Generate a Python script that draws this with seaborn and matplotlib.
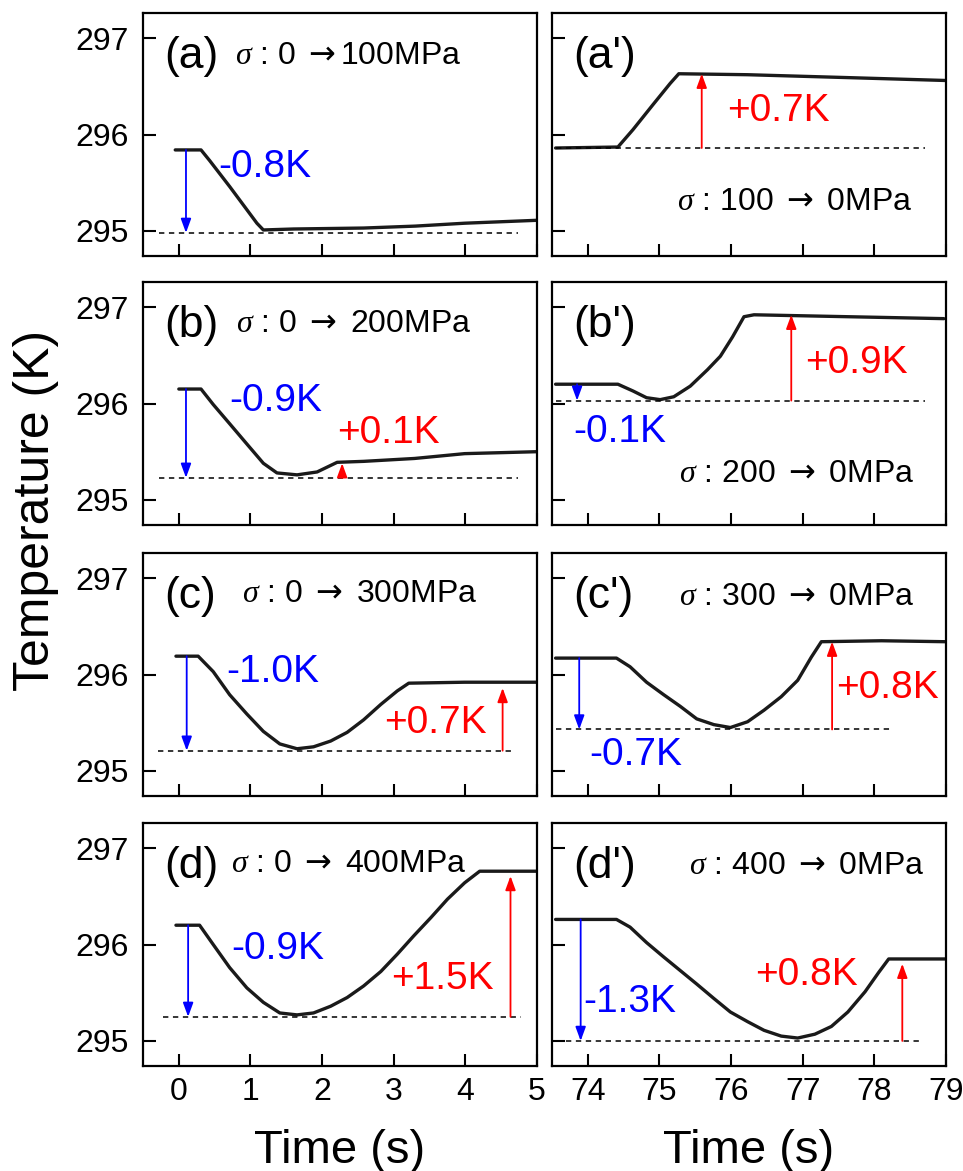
import matplotlib
matplotlib.use("Agg")
import matplotlib.pyplot as plt
import seaborn as sns

# --- data ---
# left column: loading, time 0-5 s
t_a = [-0.05, 0.31, 0.43, 0.71, 0.95, 1.09, 1.18, 1.6, 2.58, 3.3, 3.99, 4.99]
T_a = [295.84, 295.84, 295.73, 295.46, 295.22, 295.08, 295.01, 295.02, 295.03, 295.05, 295.08, 295.11]

t_b = [0.0, 0.31, 0.48, 0.71, 0.95, 1.18, 1.37, 1.65, 1.93, 2.21, 2.58, 3.29, 3.99, 4.99]
T_b = [296.15, 296.15, 295.99, 295.79, 295.58, 295.38, 295.28, 295.26, 295.29, 295.39, 295.40, 295.43, 295.48, 295.50]

t_c = [-0.04, 0.27, 0.48, 0.71, 0.95, 1.18, 1.41, 1.65, 1.88, 2.12, 2.35, 2.58, 2.82, 3.05, 3.21, 3.99, 4.99]
T_c = [296.19, 296.19, 296.03, 295.79, 295.59, 295.41, 295.28, 295.23, 295.25, 295.31, 295.40, 295.53, 295.69, 295.83, 295.91, 295.92, 295.92]

t_d = [-0.04, 0.29, 0.48, 0.71, 0.95, 1.18, 1.41, 1.65, 1.88, 2.12, 2.35, 2.58, 2.82, 3.05, 3.28, 3.52, 3.75, 3.99, 4.20, 4.99]
T_d = [296.20, 296.20, 296.00, 295.76, 295.55, 295.40, 295.29, 295.27, 295.29, 295.36, 295.45, 295.57, 295.72, 295.90, 296.09, 296.28, 296.47, 296.64, 296.76, 296.76]

# right column: unloading, time 73.5-79 s
t_a2 = [73.55, 74.42, 74.63, 74.91, 75.15, 75.27, 76.23, 77.63, 79.0]
T_a2 = [295.86, 295.87, 296.05, 296.31, 296.53, 296.63, 296.62, 296.59, 296.56]

t_b2 = [73.55, 74.42, 74.63, 74.82, 75.01, 75.20, 75.43, 75.67, 75.85, 76.02, 76.18, 76.32, 77.63, 78.97]
T_b2 = [296.20, 296.20, 296.13, 296.06, 296.04, 296.07, 296.18, 296.35, 296.49, 296.69, 296.90, 296.92, 296.90, 296.88]

t_c2 = [73.55, 74.40, 74.59, 74.82, 75.06, 75.29, 75.52, 75.76, 75.99, 76.23, 76.46, 76.70, 76.93, 77.12, 77.26, 78.10, 78.99]
T_c2 = [296.17, 296.17, 296.08, 295.92, 295.79, 295.67, 295.54, 295.48, 295.45, 295.51, 295.63, 295.77, 295.94, 296.18, 296.34, 296.35, 296.34]

t_d2 = [73.55, 74.40, 74.59, 74.82, 75.06, 75.29, 75.52, 75.76, 75.99, 76.23, 76.46, 76.70, 76.93, 77.17, 77.40, 77.63, 77.87, 78.06, 78.20, 78.99]
T_d2 = [296.26, 296.26, 296.18, 296.02, 295.87, 295.73, 295.59, 295.44, 295.30, 295.20, 295.11, 295.05, 295.03, 295.07, 295.15, 295.30, 295.51, 295.71, 295.85, 295.85]

# dashed reference lines: (level, x start, x end)
base_left = [(294.98, -0.27, 4.74), (295.23, -0.27, 4.74), (295.21, -0.29, 4.67), (295.25, -0.22, 4.78)]
base_right = [(295.86, 73.55, 78.71), (296.03, 73.55, 78.71), (295.43, 73.55, 78.24), (295.00, 73.55, 78.62)]

# arrows: (x, from, to, colour)
arrows_left = [
    [(0.10, 295.84, 294.98, "blue")],
    [(0.10, 296.15, 295.23, "blue"), (2.28, 295.23, 295.38, "red")],
    [(0.11, 296.19, 295.21, "blue"), (4.52, 295.21, 295.86, "red")],
    [(0.13, 296.20, 295.25, "blue"), (4.63, 295.25, 296.71, "red")],
]
arrows_right = [
    [(75.59, 295.86, 296.63, "red")],
    [(73.85, 296.20, 296.03, "blue"), (76.84, 296.03, 296.92, "red")],
    [(73.88, 296.17, 295.43, "blue"), (77.41, 295.43, 296.34, "red")],
    [(73.90, 296.26, 295.00, "blue"), (78.39, 295.00, 295.80, "red")],
]

# annotation labels: (text, x, y, colour)
dT_left = [
    [("-0.8K", 0.55, 295.66, "blue")],
    [("-0.9K", 0.71, 296.03, "blue"), ("+0.1K", 2.21, 295.69, "red")],
    [("-1.0K", 0.66, 296.03, "blue"), ("+0.7K", 2.86, 295.50, "red")],
    [("-0.9K", 0.73, 295.95, "blue"), ("+1.5K", 2.96, 295.64, "red")],
]
dT_right = [
    [("+0.7K", 75.95, 296.24, "red")],
    [("+0.9K", 77.03, 296.42, "red"), ("-0.1K", 73.79, 295.70, "blue")],
    [("+0.8K", 77.47, 295.86, "red"), ("-0.7K", 74.02, 295.17, "blue")],
    [("-1.3K", 73.94, 295.40, "blue"), ("+0.8K", 76.34, 295.68, "red")],
]

panel_left = ["(a)", "(b)", "(c)", "(d)"]
panel_right = ["(a')", "(b')", "(c')", "(d')"]
sigma_left = [r"$\sigma$ : 0 $\rightarrow$100MPa", r"$\sigma$ : 0 $\rightarrow$ 200MPa",
              r"$\sigma$ : 0 $\rightarrow$ 300MPa", r"$\sigma$ : 0 $\rightarrow$ 400MPa"]
sigma_right = [r"$\sigma$ : 100 $\rightarrow$ 0MPa", r"$\sigma$ : 200 $\rightarrow$ 0MPa",
               r"$\sigma$ : 300 $\rightarrow$ 0MPa", r"$\sigma$ : 400 $\rightarrow$ 0MPa"]
sigma_left_pos = [(0.78, 296.81), (0.80, 296.82), (0.875, 296.83), (0.73, 296.84)]
sigma_right_pos = [(75.24, 295.30), (75.27, 295.27), (75.27, 296.80), (75.41, 296.81)]

curves_left = [(t_a, T_a), (t_b, T_b), (t_c, T_c), (t_d, T_d)]
curves_right = [(t_a2, T_a2), (t_b2, T_b2), (t_c2, T_c2), (t_d2, T_d2)]

xticks_left = [0, 1, 2, 3, 4, 5]
xticks_right = [74, 75, 76, 77, 78, 79]
yticks = [295, 296, 297]

# --- style ---
sns.set_style("ticks")
plt.rcParams["font.family"] = ["Liberation Sans", "DejaVu Sans"]
plt.rcParams["mathtext.fontset"] = "custom"
plt.rcParams["mathtext.it"] = "Liberation Serif:italic"
plt.rcParams["mathtext.rm"] = "DejaVu Sans"
for k in ["text.color", "axes.labelcolor", "xtick.color", "ytick.color", "axes.edgecolor"]:
    plt.rcParams[k] = "black"

fig = plt.figure(figsize=(9.63, 11.71), dpi=100)

W, H = 963, 1171
col_x = [143 / W, 552 / W]
ax_w = 394 / W
ax_h = 243 / H
row_bottom_px = [256, 525, 796, 1066]


def draw_panel(ax, curve, base, arrs, labels, plabel, sig, sigpos, xlim, xt, bottom):
    sns.lineplot(x=curve[0], y=curve[1], ax=ax, color="#1a1a1a", lw=2.4, estimator=None)
    lvl, x0, x1 = base
    ax.plot([x0, x1], [lvl, lvl], color="black", lw=1.1, ls=(0, (3.5, 3)))
    for x, y0, y1, c in arrs:
        ax.annotate("", xy=(x, y1), xytext=(x, y0),
                    arrowprops=dict(arrowstyle="-|>,head_length=0.6,head_width=0.22",
                                    color=c, lw=1.3, mutation_scale=14,
                                    shrinkA=0, shrinkB=0))
    for s, x, y, c in labels:
        ax.text(x, y, s, color=c, fontsize=28, ha="left", va="center")
    ax.text(xlim[0] + 0.3, 296.81, plabel, fontsize=32, ha="left", va="center")
    ax.text(sigpos[0], sigpos[1], sig, fontsize=23, ha="left", va="center")

    ax.set_xlim(*xlim)
    ax.set_ylim(294.74, 297.26)
    ax.set_xticks(xt)
    ax.set_yticks(yticks)
    ax.set_xlabel("")
    ax.set_ylabel("")
    ax.tick_params(direction="in", length=9, width=1.5, labelsize=23, pad=8,
                   top=False, right=False, colors="black")
    ax.tick_params(axis="y", pad=10)
    if not bottom:
        ax.set_xticklabels([])
    for sp in ax.spines.values():
        sp.set_linewidth(1.6)
        sp.set_color("black")
        sp.set_visible(True)


for i in range(4):
    b = 1 - row_bottom_px[i] / H
    axl = fig.add_axes([col_x[0], b, ax_w, ax_h])
    draw_panel(axl, curves_left[i], base_left[i], arrows_left[i], dT_left[i],
               panel_left[i], sigma_left[i], sigma_left_pos[i], (-0.5, 5.0),
               xticks_left, i == 3)
    axr = fig.add_axes([col_x[1], b, ax_w, ax_h])
    draw_panel(axr, curves_right[i], base_right[i], arrows_right[i], dT_right[i],
               panel_right[i], sigma_right[i], sigma_right_pos[i], (73.5, 79.0),
               xticks_right, i == 3)
    axr.set_yticklabels([])

fig.text(36 / W, 1 - 510 / H, "Temperature (K)", rotation=90, fontsize=36,
         ha="center", va="center")
fig.text((143 + 197) / W, 1 - 1163 / H, "Time (s)", fontsize=34, ha="center", va="baseline")
fig.text((552 + 197) / W, 1 - 1163 / H, "Time (s)", fontsize=34, ha="center", va="baseline")

fig.savefig("out.png", dpi=100)
